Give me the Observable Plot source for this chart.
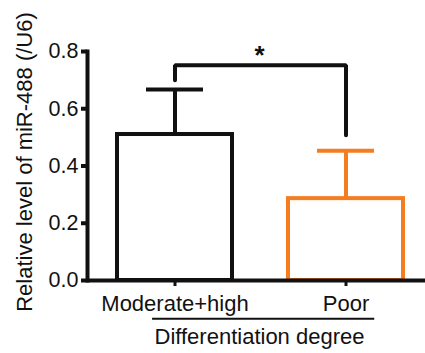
<!DOCTYPE html>
<html><head><meta charset="utf-8">
<script src="https://cdn.jsdelivr.net/npm/d3@7"></script>
<script src="https://cdn.jsdelivr.net/npm/@observablehq/plot@0.6"></script>
<style>
body{margin:0;background:#fff}
svg{font-family:"Liberation Sans",Arial,sans-serif}
</style>
</head><body><div id="chart"></div>
<script>
const categories = ["Moderate+high", "Poor"];
const means = [0.51, 0.286];
const errors = [0.157, 0.167];
const colors = ["#111111", "#f47d20"];
const yTicks = [0, 0.2, 0.4, 0.6, 0.8];
const bracketLevels = [0.70, 0.752, 0.752, 0.507];
const bracketCats = [categories[0], categories[0], categories[1], categories[1]];
const starLevel = [0.785];
const yLabel = "Relative level of miR-488 (/U6)";
const xLabel = "Differentiation degree";
const sigLabel = "*";
const underlineLevel = -0.135;

const data = categories.map((c, i) => ({cat: c, mean: means[i], hi: means[i] + errors[i]}));
const bracket = bracketCats.map((c, i) => ({cat: c, y: bracketLevels[i]}));

const plot = Plot.plot({
  width: 425, height: 353,
  marginLeft: 87, marginRight: 0, marginTop: 51, marginBottom: 73,
  style: {fontFamily: '"Liberation Sans", Arial, sans-serif', fontSize: "21px", color: "#111", background: "#fff"},
  x: {domain: categories, range: [116.5, 403], paddingInner: 0.33, paddingOuter: 0, label: null},
  y: {domain: [0, 0.8], label: null},
  color: {domain: categories, range: colors},
  marks: [
    Plot.barY(data, {x: "cat", y: "mean", fill: "white", stroke: "cat", strokeWidth: 4}),
    Plot.ruleX(data, {x: "cat", y1: "mean", y2: "hi", stroke: "cat", strokeWidth: 4}),
    Plot.tickY(data, {x: "cat", y: "hi", stroke: "cat", strokeWidth: 4, insetLeft: 29, insetRight: 29}),
    Plot.line(bracket, {x: "cat", y: "y", stroke: "#111", strokeWidth: 4, strokeLinejoin: "miter"}),
    Plot.text(starLevel, {y: d => d, text: () => sigLabel, fontSize: 26, fontWeight: "bold", dx: 3, fill: "#111"}),
    Plot.frame({anchor: "left", stroke: "#111", strokeWidth: 4}),
    Plot.ruleY([0], {stroke: "#111", strokeWidth: 4}),
    Plot.axisY({ticks: yTicks, tickFormat: ".1f", tickSize: 6, tickPadding: 3, strokeWidth: 4, fontSize: 21.5, label: null}),
    Plot.axisX({tickSize: 6, tickPadding: 9, strokeWidth: 3, fontSize: 22, label: null}),
    Plot.text([yLabel], {frameAnchor: "left", textAnchor: "middle", lineAnchor: "middle", rotate: -90, dx: -63, dy: -4, fontSize: 22, fill: "#111"}),
    Plot.text([xLabel], {frameAnchor: "bottom", textAnchor: "middle", lineAnchor: "middle", dy: 56, dx: 3, fontSize: 22, fill: "#111"})
  ]
});
// underline beneath tick labels, positioned from the plot's own scales
const xs = plot.scale("x"), ys = plot.scale("y");
const c0 = xs.apply(categories[0]) + xs.bandwidth / 2;
const c1 = xs.apply(categories[1]) + xs.bandwidth / 2;
d3.select(plot).append("line")
  .attr("x1", c0 - xs.bandwidth * 0.195).attr("x2", c1 + xs.bandwidth * 0.25)
  .attr("y1", ys.apply(underlineLevel)).attr("y2", ys.apply(underlineLevel))
  .attr("stroke", "#111").attr("stroke-width", 2);
document.getElementById("chart").appendChild(plot);
</script>
</body></html>
